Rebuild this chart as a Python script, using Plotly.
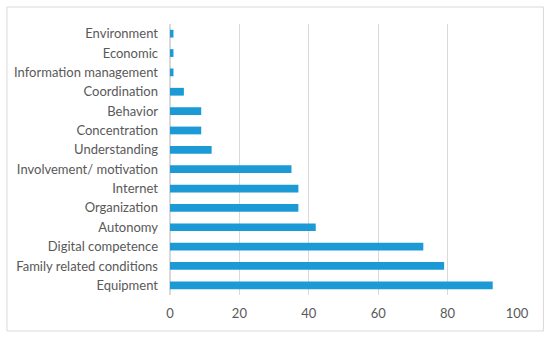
import plotly.graph_objects as go

categories = ["Equipment", "Family related conditions", "Digital competence", "Autonomy",
              "Organization", "Internet", "Involvement/ motivation", "Understanding",
              "Concentration", "Behavior", "Coordination", "Information management",
              "Economic", "Environment"]
values = [93, 79, 73, 42, 37, 37, 35, 12, 9, 9, 4, 1, 1, 1]
x_ticks = [0, 20, 40, 60, 80, 100]

W, H = 550, 337
L, R, T, B = 169.5, 32.5, 24, 42
pw, ph = W - L - R, H - T - B

fig = go.Figure(go.Bar(
    x=values, y=categories, orientation="h",
    marker=dict(color="#1b9ad6", line=dict(width=0)),
    width=0.4,
))

def px_to_paper_x(px):
    return (px - L) / pw

def px_to_paper_y(py):
    return (H - B - py) / ph

fig.update_layout(
    width=W, height=H,
    margin=dict(l=L, r=R, t=T, b=B, pad=0, autoexpand=False),
    paper_bgcolor="white", plot_bgcolor="white",
    font=dict(family="Lato, Open Sans, sans-serif", size=13, color="#595959"),
    showlegend=False,
    xaxis=dict(range=[0, 100], tickvals=x_ticks, showgrid=True, gridcolor="#d9d9d9",
               gridwidth=1, zeroline=True, zerolinecolor="#d9d9d9", showline=False,
               ticks="", ticklen=0, tickfont=dict(size=13, color="#595959"),
               automargin=False, ticklabelstandoff=9, fixedrange=True),
    yaxis=dict(categoryorder="array", categoryarray=categories, showgrid=False,
               showline=False, ticks="", automargin=False, ticklabelstandoff=11,
               tickfont=dict(size=13, color="#595959"), range=[-0.5, 13.5]),
    shapes=[dict(type="rect", xref="paper", yref="paper",
                 x0=px_to_paper_x(6), x1=px_to_paper_x(544),
                 y0=px_to_paper_y(331), y1=px_to_paper_y(7),
                 line=dict(color="#d9d9d9", width=1), fillcolor="rgba(0,0,0,0)",
                 layer="below")],
)

fig.write_html("out.html", config={"displayModeBar": False},
               post_script="document.body.style.margin='0';document.body.style.overflow='hidden';")
